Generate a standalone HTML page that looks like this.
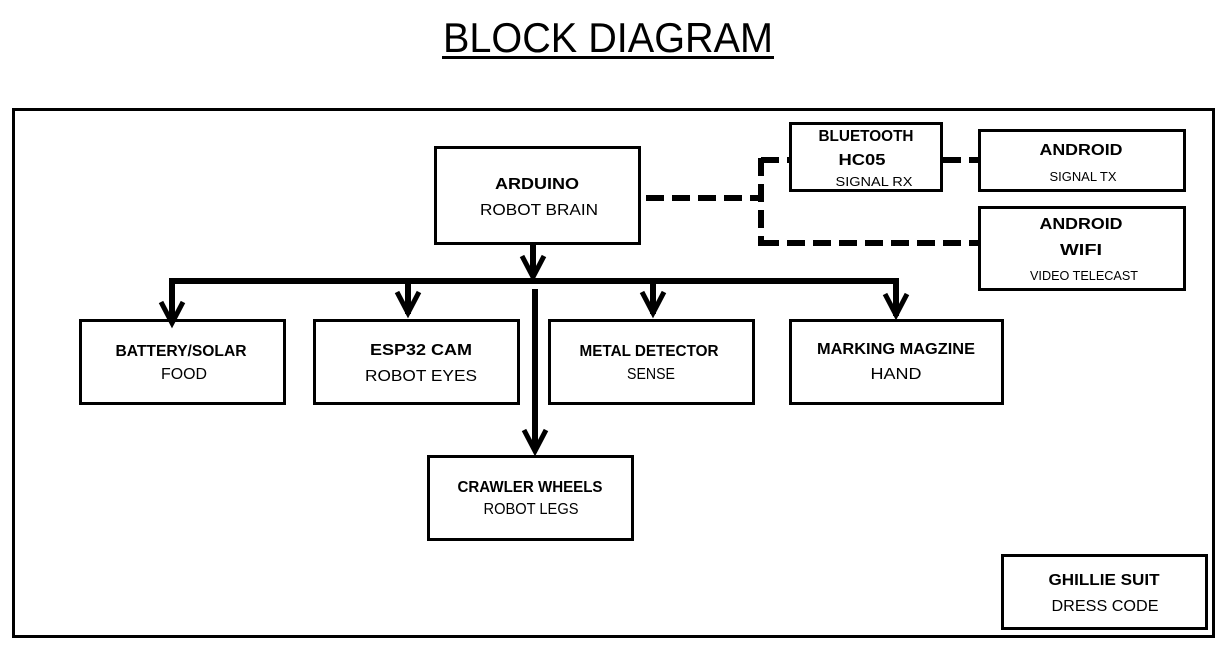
<!DOCTYPE html>
<html><head><meta charset="utf-8"><style>
html,body{margin:0;padding:0;background:#fff;}
svg{display:block;}
text{font-family:"Liberation Sans",sans-serif;fill:#000;}
.b{font-weight:bold;font-size:16px;}
.n{font-size:16px;}
.s{font-size:13px;}
</style></head><body>
<svg width="1228" height="655" viewBox="0 0 1228 655" xmlns="http://www.w3.org/2000/svg">
<rect width="1228" height="655" fill="#fff"/>
<text x="608" y="52" text-anchor="middle" font-size="42" textLength="330" lengthAdjust="spacingAndGlyphs">BLOCK DIAGRAM</text>
<rect x="442" y="56" width="332" height="3" fill="#000"/>
<g fill="none" stroke="#000" stroke-width="3">
<rect x="13.5" y="109.5" width="1200" height="527"/>
<rect x="435.5" y="147.5" width="204" height="96"/>
<rect x="790.5" y="123.5" width="151" height="67"/>
<rect x="979.5" y="130.5" width="205" height="60"/>
<rect x="979.5" y="207.5" width="205" height="82"/>
<rect x="80.5" y="320.5" width="204" height="83"/>
<rect x="314.5" y="320.5" width="204" height="83"/>
<rect x="549.5" y="320.5" width="204" height="83"/>
<rect x="790.5" y="320.5" width="212" height="83"/>
<rect x="428.5" y="456.5" width="204" height="83"/>
<rect x="1002.5" y="555.5" width="204" height="73"/>
</g>
<g stroke="#000" stroke-width="6" fill="none">
<line x1="169" y1="281" x2="899" y2="281"/>
<line x1="533" y1="243" x2="533" y2="276"/>
<line x1="172" y1="281" x2="172" y2="318"/>
<line x1="408" y1="281" x2="408" y2="314"/>
<line x1="653" y1="281" x2="653" y2="314"/>
<line x1="896" y1="281" x2="896" y2="316"/>
<line x1="535" y1="289" x2="535" y2="450"/>
</g>
<g stroke="#000" stroke-width="5" fill="none" stroke-linejoin="miter">
<polyline points="522,256 533,277 544,256"/>
<polyline points="161,302 172,323 183,302"/>
<polyline points="397,292 408,313 419,292"/>
<polyline points="642,292 653,313 664,292"/>
<polyline points="885,294 896,315 907,294"/>
<polyline points="524,430 535,451 546,430"/>
</g>
<g stroke="#000" stroke-width="6" fill="none" stroke-dasharray="18,8">
<line x1="646" y1="198" x2="761" y2="198"/>
<line x1="761" y1="158" x2="761" y2="246"/>
<line x1="761" y1="160" x2="790" y2="160"/>
<line x1="761" y1="243" x2="979" y2="243"/>
<line x1="943" y1="160" x2="979" y2="160"/>
</g>
<g text-anchor="middle">
<text class="b" x="537" y="189" textLength="84" lengthAdjust="spacingAndGlyphs">ARDUINO</text>
<text class="n" x="539" y="215" textLength="118" lengthAdjust="spacingAndGlyphs">ROBOT  BRAIN</text>
<text class="b" x="866" y="141" textLength="95" lengthAdjust="spacingAndGlyphs">BLUETOOTH</text>
<text class="b" x="862" y="165" textLength="47" lengthAdjust="spacingAndGlyphs">HC05</text>
<text class="s" x="874" y="186" textLength="77" lengthAdjust="spacingAndGlyphs">SIGNAL RX</text>
<text class="b" x="1081" y="155" textLength="83" lengthAdjust="spacingAndGlyphs">ANDROID</text>
<text class="s" x="1083" y="181" textLength="67" lengthAdjust="spacingAndGlyphs">SIGNAL TX</text>
<text class="b" x="1081" y="229" textLength="83" lengthAdjust="spacingAndGlyphs">ANDROID</text>
<text class="b" x="1081" y="255" textLength="42" lengthAdjust="spacingAndGlyphs">WIFI</text>
<text class="s" x="1084" y="280" textLength="108" lengthAdjust="spacingAndGlyphs">VIDEO TELECAST</text>
<text class="b" x="181" y="356" textLength="131" lengthAdjust="spacingAndGlyphs">BATTERY/SOLAR</text>
<text class="n" x="184" y="379" textLength="46" lengthAdjust="spacingAndGlyphs">FOOD</text>
<text class="b" x="421" y="355" textLength="102" lengthAdjust="spacingAndGlyphs">ESP32 CAM</text>
<text class="n" x="421" y="381" textLength="112" lengthAdjust="spacingAndGlyphs">ROBOT  EYES</text>
<text class="b" x="649" y="356" textLength="139" lengthAdjust="spacingAndGlyphs">METAL DETECTOR</text>
<text class="n" x="651" y="379" textLength="48" lengthAdjust="spacingAndGlyphs">SENSE</text>
<text class="b" x="896" y="354" textLength="158" lengthAdjust="spacingAndGlyphs">MARKING MAGZINE</text>
<text class="n" x="896" y="379" textLength="51" lengthAdjust="spacingAndGlyphs">HAND</text>
<text class="b" x="530" y="492" textLength="145" lengthAdjust="spacingAndGlyphs">CRAWLER WHEELS</text>
<text class="n" x="531" y="514" textLength="95" lengthAdjust="spacingAndGlyphs">ROBOT LEGS</text>
<text class="b" x="1104" y="585" textLength="111" lengthAdjust="spacingAndGlyphs">GHILLIE SUIT</text>
<text class="n" x="1105" y="611" textLength="107" lengthAdjust="spacingAndGlyphs">DRESS CODE</text>
</g>
</svg>
</body></html>
